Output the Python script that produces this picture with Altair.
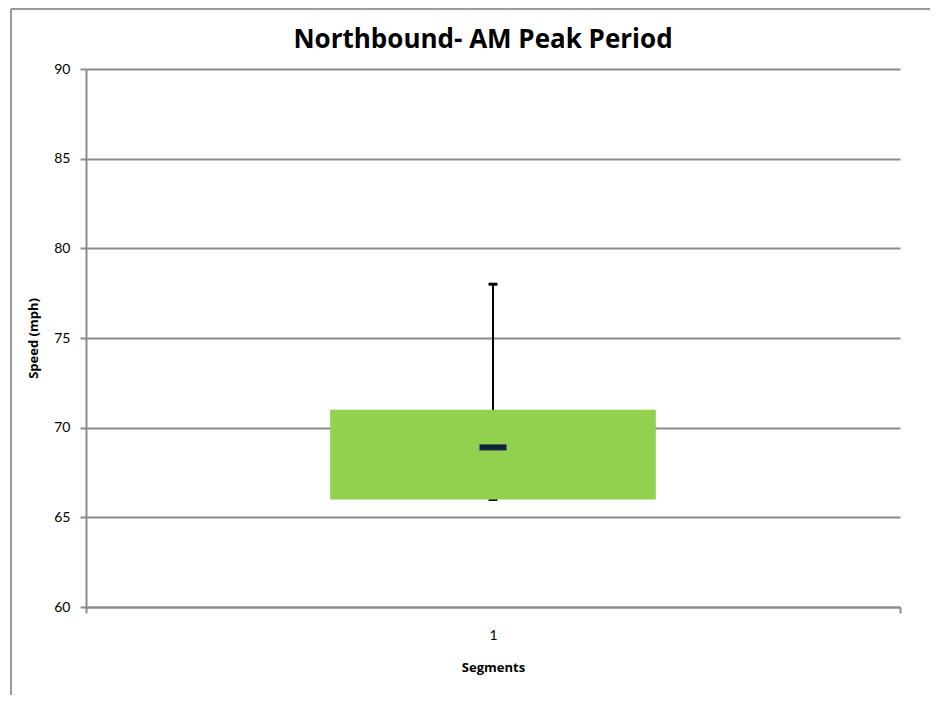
import altair as alt
import pandas as pd

categories = ["1"]
q1 = [66]
q3 = [71]
median = [68.9]
whisker_low = [66]
whisker_high = [78]
chart_title = ["Northbound- AM Peak Period"]

df = pd.DataFrame({
    "seg": categories,
    "q1": q1,
    "q3": q3,
    "median": median,
    "lo": whisker_low,
    "hi": whisker_high,
    "title": chart_title,
})

FONT = "Lato"
BOLD_FONT = "Open Sans"
GRID = "#8c8c8c"

x_enc = alt.X(
    "seg:N",
    title="Segments",
    scale=alt.Scale(paddingInner=0, paddingOuter=0),
    axis=alt.Axis(
        labelAngle=0,
        labelFont=FONT, labelFontSize=14, labelColor="#000000",
        titleFont=BOLD_FONT, titleFontSize=13, titleFontWeight="bold", titleColor="#000000",
        domainColor=GRID, domainWidth=2,
        tickColor=GRID, tickWidth=2, tickSize=6, tickBand="extent",
        labelPadding=15, titlePadding=19,
        grid=False,
    ),
)

y_scale = alt.Scale(domain=[60, 90], nice=False, zero=False)
y_axis = alt.Axis(
    values=[60, 65, 70, 75, 80, 85, 90],
    title="Speed (mph)",
    labelFont=FONT, labelFontSize=14, labelColor="#000000",
    titleFont=BOLD_FONT, titleFontSize=13, titleFontWeight="bold", titleColor="#000000",
    domainColor=GRID, domainWidth=2,
    tickColor=GRID, tickWidth=2, tickSize=6,
    gridColor=GRID, gridWidth=2, grid=True,
    labelPadding=10, titlePadding=13,
)

base = alt.Chart(df)

whisker = base.mark_rule(color="#000000", strokeWidth=2).encode(
    x=x_enc,
    y=alt.Y("lo:Q", scale=y_scale, axis=y_axis),
    y2="hi:Q",
)
caps_hi = base.mark_tick(color="#000000", size=9, thickness=3, opacity=1).encode(
    x="seg:N", y="hi:Q"
)
caps_lo = base.mark_tick(color="#000000", size=9, thickness=3, opacity=1).encode(
    x="seg:N", y="lo:Q"
)
box = base.mark_bar(color="#92d050", width={"band": 0.4}, opacity=1).encode(
    x="seg:N", y="q1:Q", y2="q3:Q"
)
med = base.mark_tick(color="#10243e", size=27, thickness=6, opacity=1).encode(
    x="seg:N", y="median:Q"
)

frame_left = base.mark_rule(color="#9a9a9a", strokeWidth=2).encode(
    x=alt.value(-75), y=alt.value(-60), y2=alt.value(626)
)
frame_top = base.mark_rule(color="#9a9a9a", strokeWidth=2).encode(
    x=alt.value(-75), x2=alt.value(844), y=alt.value(-60)
)

title_txt = base.mark_text(
    font=BOLD_FONT, fontSize=26, fontWeight="bold", color="#000000",
    align="center", baseline="middle",
).encode(
    text="title:N", x=alt.value(397), y=alt.value(-29)
)

chart = alt.layer(frame_left, frame_top, whisker, caps_lo, caps_hi, box, med, title_txt).properties(
    width=814,
    height=538,
    autosize=alt.AutoSizeParams(type="none"),
    padding={"left": 78, "top": 61, "right": 30, "bottom": 88},
).configure_view(stroke=None)

chart.save("out.html", embed_options={"renderer": "svg", "actions": False})
